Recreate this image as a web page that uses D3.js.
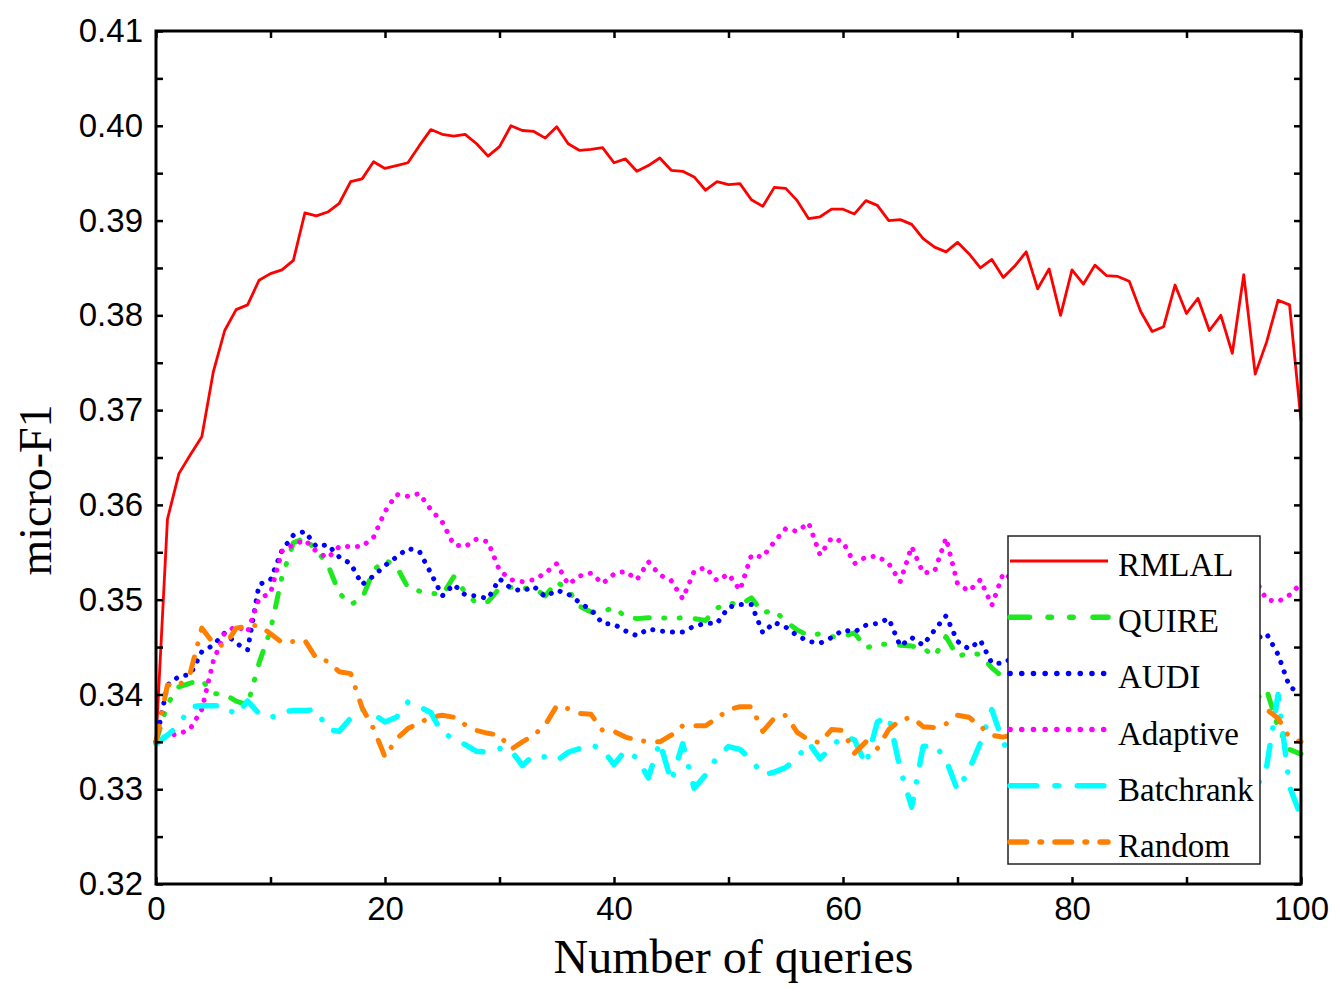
<!doctype html>
<html>

<head>
	<meta charset="UTF-8" />
	<script src="https://cdn.jsdelivr.net/npm/d3@7"></script>
	<style>
		body { margin: 0; background: #fff; }
		svg { display: block; }
	</style>
</head>

<body>
	<svg id="chart" width="1338" height="990"></svg>

	<script>
		// x categories: number of queries 0..100
		const queries = d3.range(0, 101);

		const rmlal = [0.3350, 0.3585, 0.3633, 0.3653, 0.3672, 0.3740, 0.3784, 0.3806, 0.3811, 0.3837,
			0.3844, 0.3848, 0.3858, 0.3908, 0.3905, 0.3909, 0.3918, 0.3941, 0.3944, 0.3962,
			0.3955, 0.3958, 0.3961, 0.3979, 0.3996, 0.3991, 0.3989, 0.3991, 0.3981, 0.3968,
			0.3978, 0.4000, 0.3995, 0.3994, 0.3987, 0.3999, 0.3981, 0.3974, 0.3975, 0.3977,
			0.3961, 0.3965, 0.3952, 0.3958, 0.3966, 0.3953, 0.3952, 0.3946, 0.3932, 0.3941,
			0.3938, 0.3939, 0.3922, 0.3915, 0.3935, 0.3934, 0.3921, 0.3902, 0.3904, 0.3912,
			0.3912, 0.3907, 0.3921, 0.3916, 0.3900, 0.3901, 0.3896, 0.3881, 0.3872, 0.3867,
			0.3877, 0.3865, 0.3850, 0.3859, 0.3840, 0.3852, 0.3867, 0.3828, 0.3849, 0.3800,
			0.3848, 0.3833, 0.3853, 0.3842, 0.3841, 0.3836, 0.3804, 0.3783, 0.3788, 0.3832,
			0.3802, 0.3818, 0.3784, 0.3800, 0.3760, 0.3843, 0.3738, 0.3772, 0.3816, 0.3811,
			0.3689];

		const quire = [0.3350, 0.3390, 0.3408, 0.3412, 0.3415, 0.3401, 0.3400, 0.3393, 0.3389, 0.3433,
			0.3468, 0.3524, 0.3560, 0.3565, 0.3552, 0.3537, 0.3507, 0.3495, 0.3501, 0.3531,
			0.3542, 0.3535, 0.3513, 0.3509, 0.3507, 0.3505, 0.3524, 0.3508, 0.3496, 0.3498,
			0.3512, 0.3513, 0.3512, 0.3512, 0.3504, 0.3519, 0.3510, 0.3493, 0.3487, 0.3487,
			0.3492, 0.3482, 0.3480, 0.3481, 0.3481, 0.3480, 0.3481, 0.3480, 0.3478, 0.3491,
			0.3497, 0.3494, 0.3502, 0.3486, 0.3489, 0.3477, 0.3468, 0.3462, 0.3464, 0.3461,
			0.3461, 0.3465, 0.3449, 0.3453, 0.3453, 0.3452, 0.3451, 0.3449, 0.3440, 0.3461,
			0.3440, 0.3444, 0.3442, 0.3428, 0.3418, 0.3418, 0.3425, 0.3412, 0.3420, 0.3408,
			0.3415, 0.3422, 0.3410, 0.3418, 0.3405, 0.3414, 0.3420, 0.3408, 0.3416, 0.3402,
			0.3412, 0.3406, 0.3415, 0.3400, 0.3408, 0.3398, 0.3394, 0.3405, 0.3365, 0.3342,
			0.3337];

		const audi = [0.3350, 0.3410, 0.3419, 0.3421, 0.3445, 0.3452, 0.3465, 0.3454, 0.3447, 0.3516,
			0.3521, 0.3552, 0.3568, 0.3572, 0.3556, 0.3558, 0.3545, 0.3538, 0.3516, 0.3525,
			0.3536, 0.3545, 0.3554, 0.3551, 0.3528, 0.3504, 0.3516, 0.3505, 0.3504, 0.3501,
			0.3522, 0.3512, 0.3509, 0.3514, 0.3503, 0.3510, 0.3506, 0.3497, 0.3489, 0.3475,
			0.3474, 0.3467, 0.3462, 0.3469, 0.3467, 0.3466, 0.3466, 0.3472, 0.3475, 0.3475,
			0.3492, 0.3495, 0.3495, 0.3465, 0.3476, 0.3471, 0.3462, 0.3456, 0.3454, 0.3460,
			0.3468, 0.3466, 0.3473, 0.3475, 0.3480, 0.3451, 0.3460, 0.3452, 0.3468, 0.3483,
			0.3456, 0.3448, 0.3457, 0.3433, 0.3433, 0.3440, 0.3452, 0.3445, 0.3461, 0.3450,
			0.3458, 0.3447, 0.3466, 0.3455, 0.3462, 0.3449, 0.3470, 0.3458, 0.3465, 0.3452,
			0.3468, 0.3460, 0.3473, 0.3462, 0.3470, 0.3465, 0.3458, 0.3464, 0.3442, 0.3408,
			0.3401];

		const adaptive = [0.3350, 0.3357, 0.3358, 0.3364, 0.3384, 0.3435, 0.3465, 0.3472, 0.3466, 0.3501,
			0.3507, 0.3551, 0.3558, 0.3563, 0.3551, 0.3544, 0.3556, 0.3556, 0.3556, 0.3566,
			0.3593, 0.3611, 0.3609, 0.3612, 0.3595, 0.3582, 0.3558, 0.3556, 0.3564, 0.3561,
			0.3531, 0.3521, 0.3519, 0.3521, 0.3528, 0.3538, 0.3516, 0.3525, 0.3528, 0.3517,
			0.3527, 0.3530, 0.3521, 0.3540, 0.3526, 0.3520, 0.3501, 0.3530, 0.3534, 0.3520,
			0.3527, 0.3510, 0.3547, 0.3545, 0.3561, 0.3575, 0.3572, 0.3581, 0.3547, 0.3565,
			0.3561, 0.3538, 0.3545, 0.3546, 0.3538, 0.3519, 0.3556, 0.3528, 0.3530, 0.3565,
			0.3517, 0.3509, 0.3521, 0.3494, 0.3528, 0.3520, 0.3535, 0.3512, 0.3528, 0.3540,
			0.3522, 0.3515, 0.3532, 0.3545, 0.3525, 0.3518, 0.3536, 0.3528, 0.3510, 0.3530,
			0.3524, 0.3538, 0.3516, 0.3527, 0.3533, 0.3521, 0.3521, 0.3500, 0.3498, 0.3505,
			0.3517];

		const batchrank = [0.3348, 0.3357, 0.3368, 0.3387, 0.3388, 0.3388, 0.3388, 0.3378, 0.3393, 0.3380,
			0.3375, 0.3382, 0.3383, 0.3383, 0.3384, 0.3363, 0.3361, 0.3375, 0.3384, 0.3379,
			0.3371, 0.3376, 0.3392, 0.3387, 0.3381, 0.3359, 0.3354, 0.3347, 0.3340, 0.3339,
			0.3343, 0.3341, 0.3325, 0.3336, 0.3334, 0.3330, 0.3339, 0.3343, 0.3347, 0.3342,
			0.3326, 0.3341, 0.3333, 0.3312, 0.3350, 0.3308, 0.3348, 0.3301, 0.3315, 0.3334,
			0.3345, 0.3342, 0.3331, 0.3315, 0.3318, 0.3323, 0.3333, 0.3349, 0.3332, 0.3345,
			0.3356, 0.3352, 0.3326, 0.3371, 0.3377, 0.3321, 0.3281, 0.3345, 0.3347, 0.3331,
			0.3299, 0.3320, 0.3349, 0.3384, 0.3349, 0.3330, 0.3352, 0.3318, 0.3340, 0.3362,
			0.3325, 0.3345, 0.3310, 0.3338, 0.3355, 0.3320, 0.3342, 0.3305, 0.3335, 0.3350,
			0.3315, 0.3340, 0.3360, 0.3322, 0.3345, 0.3312, 0.3299, 0.3324, 0.3400, 0.3303,
			0.3271];

		const random = [0.3350, 0.3410, 0.3409, 0.3423, 0.3470, 0.3454, 0.3451, 0.3470, 0.3472, 0.3473,
			0.3464, 0.3455, 0.3456, 0.3457, 0.3438, 0.3435, 0.3424, 0.3422, 0.3386, 0.3364,
			0.3334, 0.3353, 0.3364, 0.3370, 0.3376, 0.3378, 0.3376, 0.3368, 0.3362, 0.3359,
			0.3357, 0.3342, 0.3350, 0.3357, 0.3368, 0.3388, 0.3385, 0.3380, 0.3379, 0.3362,
			0.3361, 0.3355, 0.3352, 0.3350, 0.3350, 0.3357, 0.3367, 0.3367, 0.3367, 0.3375,
			0.3384, 0.3387, 0.3387, 0.3361, 0.3375, 0.3378, 0.3360, 0.3352, 0.3349, 0.3363,
			0.3362, 0.3338, 0.3350, 0.3343, 0.3363, 0.3373, 0.3376, 0.3366, 0.3365, 0.3369,
			0.3378, 0.3376, 0.3366, 0.3357, 0.3355, 0.3358, 0.3365, 0.3352, 0.3360, 0.3370,
			0.3356, 0.3362, 0.3368, 0.3354, 0.3366, 0.3372, 0.3358, 0.3364, 0.3375, 0.3360,
			0.3368, 0.3380, 0.3372, 0.3385, 0.3378, 0.3388, 0.3390, 0.3384, 0.3375, 0.3354,
			0.3350];

		const seriesNames = ["RMLAL", "QUIRE", "AUDI", "Adaptive", "Batchrank", "Random"];
		const seriesValues = [rmlal, quire, audi, adaptive, batchrank, random];

		const xTicks = [0, 10, 20, 30, 40, 50, 60, 70, 80, 90, 100];
		const xLabels = [0, 20, 40, 60, 80, 100];
		const yTicks = [0.32, 0.325, 0.33, 0.335, 0.34, 0.345, 0.35, 0.355, 0.36, 0.365,
			0.37, 0.375, 0.38, 0.385, 0.39, 0.395, 0.40, 0.405, 0.41];
		const yLabels = [0.32, 0.33, 0.34, 0.35, 0.36, 0.37, 0.38, 0.39, 0.40, 0.41];

		(function () {
			"use strict";

			// line styles (data dash patterns and legend dash patterns)
			const styles = {
				RMLAL: { color: "#ff0000", width: 2.8, dash: null, legendDash: null },
				QUIRE: { color: "#1ee81e", width: 5, dash: "14 14.5 1 14.5 1 15", legendDash: "19.5 18.5 3.5 18.2 3.5 19.8" },
				AUDI: { color: "#0000ff", width: 5, dash: "0.1 9.8", legendDash: "0.1 11.6" },
				Adaptive: { color: "#ff00ff", width: 5, dash: "0.1 9.8", legendDash: "0.1 11.6" },
				Batchrank: { color: "#00ffff", width: 5.5, dash: "21 17.5 0.1 17.5", legendDash: "26.5 18.5 3.5 18.8" },
				Random: { color: "#ff8000", width: 5, dash: "16 13.5 0.1 14", legendDash: "16.5 13.5 1.5 13.5" }
			};

			const svg = d3.select("#chart");
			const plotLeft = 156, plotRight = 1301, plotTop = 31, plotBottom = 884;

			const x = d3.scaleLinear().domain([0, 100]).range([plotLeft, plotRight]);
			const y = d3.scaleLinear().domain([0.32, 0.41]).range([plotBottom, plotTop]);

			svg.append("rect").attr("width", 1338).attr("height", 990).attr("fill", "#fff");

			// series lines
			const line = d3.line()
				.x(function (d) { return x(d[0]); })
				.y(function (d) { return y(d[1]); });

			seriesNames.forEach(function (name, i) {
				const s = styles[name];
				const pts = queries.map(function (q, j) { return [q, seriesValues[i][j]]; });
				svg.append("path")
					.datum(pts)
					.attr("d", line)
					.attr("fill", "none")
					.attr("stroke", s.color)
					.attr("stroke-width", s.width)
					.attr("stroke-linecap", s.dash ? "round" : "butt")
					.attr("stroke-linejoin", "round")
					.attr("stroke-dasharray", s.dash);
			});

			// axes: ticks point inward on all four sides
			const tickFont = "'Liberation Sans', Arial, sans-serif";

			const gBottom = svg.append("g").attr("transform", "translate(0," + plotBottom + ")")
				.call(d3.axisBottom(x).tickValues(xTicks).tickSizeInner(-7).tickSizeOuter(0).tickPadding(13)
					.tickFormat(function (d) { return xLabels.indexOf(d) >= 0 ? d : ""; }));
			const gTop = svg.append("g").attr("transform", "translate(0," + plotTop + ")")
				.call(d3.axisTop(x).tickValues(xTicks).tickSizeInner(-7).tickSizeOuter(0).tickFormat(""));
			const gLeft = svg.append("g").attr("transform", "translate(" + plotLeft + ",0)")
				.call(d3.axisLeft(y).tickValues(yTicks).tickSizeInner(-7).tickSizeOuter(0).tickPadding(13)
					.tickFormat(function (d) { return yLabels.some(function (v) { return Math.abs(v - d) < 1e-6; }) ? d3.format(".2f")(d) : ""; }));
			const gRight = svg.append("g").attr("transform", "translate(" + plotRight + ",0)")
				.call(d3.axisRight(y).tickValues(yTicks).tickSizeInner(-7).tickSizeOuter(0).tickFormat(""));

			[gBottom, gTop, gLeft, gRight].forEach(function (g) {
				g.select(".domain").remove();
				g.selectAll(".tick line").attr("stroke", "#000").attr("stroke-width", 2.5);
				g.selectAll(".tick text")
					.attr("fill", "#000")
					.style("font-family", tickFont)
					.style("font-size", "33px");
			});

			// frame
			svg.append("rect")
				.attr("x", plotLeft).attr("y", plotTop)
				.attr("width", plotRight - plotLeft).attr("height", plotBottom - plotTop)
				.attr("fill", "none").attr("stroke", "#000").attr("stroke-width", 3);

			// axis titles
			const serif = "'Liberation Serif', 'Times New Roman', serif";
			svg.append("text")
				.attr("x", (plotLeft + plotRight) / 2 + 5).attr("y", 973)
				.attr("text-anchor", "middle")
				.style("font-family", serif).style("font-size", "48px")
				.text("Number of queries");

			svg.append("text")
				.attr("transform", "translate(51,490) rotate(-90)")
				.attr("text-anchor", "middle")
				.style("font-family", serif).style("font-size", "46px")
				.text("micro-F1");

			// legend
			const legend = svg.append("g");
			const lgX = 1008, lgY = 536, lgW = 252, lgH = 328;
			legend.append("rect")
				.attr("x", lgX).attr("y", lgY).attr("width", lgW).attr("height", lgH)
				.attr("fill", "#fff").attr("stroke", "#222").attr("stroke-width", 1.5);

			const rowY = d3.scaleLinear().domain([0, 5]).range([561, 842]);
			seriesNames.forEach(function (name, i) {
				const s = styles[name];
				const ry = rowY(i);
				legend.append("line")
					.attr("x1", lgX + 2).attr("x2", 1108)
					.attr("y1", ry).attr("y2", ry)
					.attr("stroke", s.color)
					.attr("stroke-width", name === "RMLAL" ? 3 : 5.5)
					.attr("stroke-linecap", s.legendDash ? "round" : "butt")
					.attr("stroke-dasharray", s.legendDash);
				legend.append("text")
					.attr("x", 1118).attr("y", ry + 15)
					.style("font-family", serif).style("font-size", "33px")
					.text(name);
			});
		})();
	</script>
</body>

</html>
